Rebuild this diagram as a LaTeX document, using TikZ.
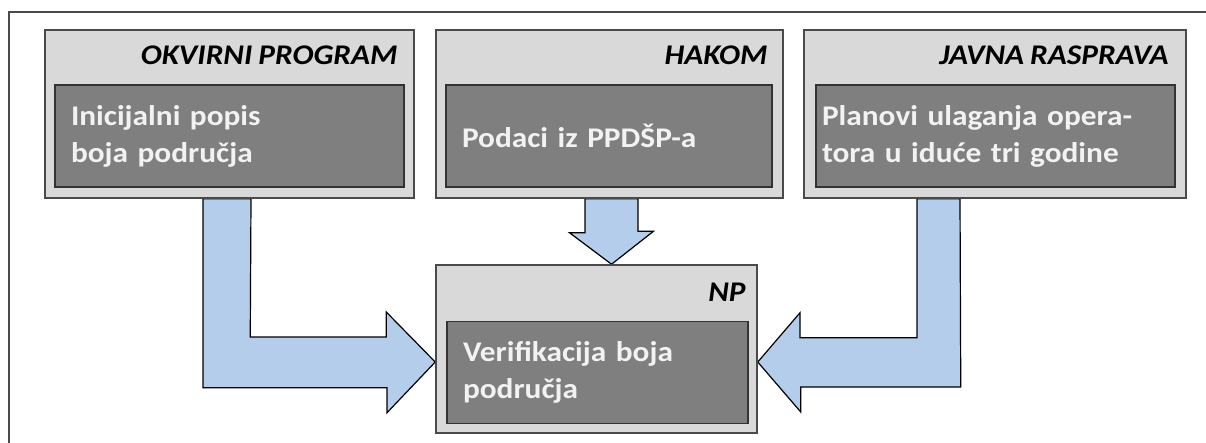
\documentclass[tikz,border=0pt]{standalone}
\usepackage{fontspec}
\setmainfont{Carlito}[FakeStretch=1.1,WordSpace=0.85]
\usepackage{tikz}
\usetikzlibrary{calc}
\usetikzlibrary{backgrounds}
\definecolor{boxgray}{HTML}{D9D9D9}
\definecolor{innergray}{HTML}{7F7F7F}
\definecolor{linegray}{HTML}{4A4A4A}
\definecolor{arrowblue}{HTML}{B4CDEA}
\tikzset{
	outerstyle/.style={rectangle,draw=linegray,line width=1.5pt,fill=boxgray,minimum height=168pt,inner sep=0pt},
	innerstyle/.style={rectangle,draw=black!80,line width=1.5pt,fill=innergray,minimum height=102pt,inner xsep=16pt,align=left,text=white!95!black,font=\fontsize{28.5}{37}\selectfont\bfseries},
	titlestyle/.style={anchor=base east,inner sep=0pt,font=\fontsize{28.5}{34}\selectfont\bfseries\itshape},
	arrowstyle/.style={draw=black,line width=1.2pt,fill=arrowblue,line join=miter}
}
\begin{document}
\begin{tikzpicture}[x=1pt,y=-1pt]
		\useasboundingbox (0,0) rectangle (1206,443);
		\draw[linegray,line width=1.5pt] (9,443) -- (9,12) -- (1206,12);
		\node[outerstyle,minimum width=369pt] (okvir) at (229.5,114) {};
		\node[outerstyle,minimum width=347pt] (hakom) at (609.5,114) {};
		\node[outerstyle,minimum width=382pt] (javna) at (995,114) {};
		\node[outerstyle,minimum width=321pt] (np) at (596.5,349) {};
		\node[titlestyle] (okvirt) at ($(okvir.north east)+(-17,35)$) {OKVIRNI PROGRAM};
		\node[titlestyle] (hakomt) at ($(hakom.north east)+(-16,35)$) {HAKOM};
		\node[titlestyle] (javnat) at ($(javna.north east)+(-18,35)$) {JAVNA RASPRAVA};
		\node[titlestyle] (npt) at ($(np.north east)+(-12,37)$) {NP};
		\node[innerstyle,text width=317pt] (popis) at (229.5,136) {Inicijalni popis\\boja područja};
		\node[innerstyle,text width=294pt] (podaci) at (609,136) {Podaci iz PPDŠP-a};
		\node[innerstyle,inner xsep=6pt,text width=347pt] (planovi) at (995.5,136) {Planovi ulaganja opera-\\tora u iduće tri godine};
		\node[innerstyle,text width=269pt] (verif) at (597.5,372.5) {Verifikacija boja\\područja};
		\begin{scope}[on background layer]
		\draw[arrowstyle] ($(okvir.south)+(-26.5,0)$) -- ++(0,189) -- ++(184,0) -- ++(0,25) -- ($(np.west)+(0,13)$) -- ++(-49,-50) -- ++(0,25) -- ++(-136,0) -- ($(okvir.south)+(21.5,0)$) -- cycle;
		\draw[arrowstyle] ($(hakom.south)+(-24.5,0)$) -- ++(0,34) -- ++(-15.5,0) -- ($(np.north)+(15,0)$) -- ++(42,-33) -- ++(-15.5,0) -- ($(hakom.south)+(28.5,0)$) -- cycle;
		\draw[arrowstyle] ($(javna.south)+(-78,0)$) -- ++(0,139) -- ++(-117,0) -- ++(0,-25) -- ($(np.east)+(0,13)$) -- ++(43,50) -- ++(0,-25) -- ++(160,0) -- ($(javna.south)+(-35,0)$) -- cycle;
		\end{scope}
		\end{tikzpicture}
\end{document}
